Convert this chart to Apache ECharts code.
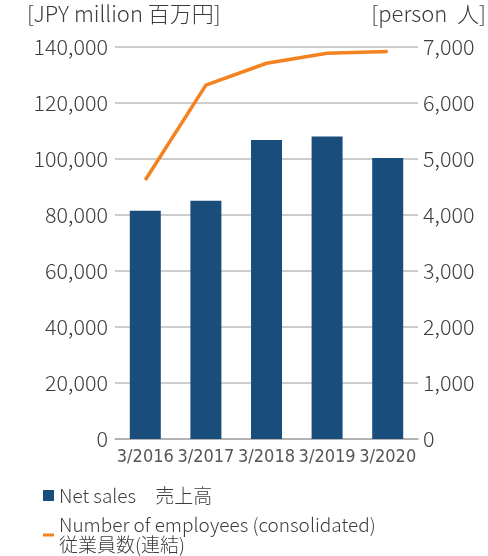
<!DOCTYPE html>
<html><head><meta charset="utf-8">
<script src="https://cdn.jsdelivr.net/npm/echarts@6/dist/echarts.min.js"></script>
<style>html,body{margin:0;padding:0;background:#fff}#c{width:488px;height:556px}</style>
</head><body><div id="c"></div>
<script>
const categories = ['3/2016','3/2017','3/2018','3/2019','3/2020'];
const netSales = [81500, 85100, 106800, 108000, 100400];
const employees = [4625, 6320, 6710, 6890, 6920];
const leftTicks = [0,20000,40000,60000,80000,100000,120000,140000];
const rightTicks = [0,1000,2000,3000,4000,5000,6000,7000];

const txt = '#3c3c3c';
const font = "'Noto Sans CJK JP', 'Noto Sans', sans-serif";
const salesName = 'Net sales　売上高';
const empName = 'Number of employees (consolidated)\n従業員数(連結)';
const chart = echarts.init(document.getElementById('c'));
chart.setOption({
  animation: false,
  textStyle: {fontFamily: font, color: txt, fontWeight: 300},
  grid: {left: 115, right: 70, top: 47, bottom: 117, containLabel: false},
  graphic: [
    {type:'text', left: 27, top: 3, style:{text:'[JPY million 百万円]', font:"300 22px "+font, fill: txt}},
    {type:'text', right: 2, top: 3, style:{text:'[person  人]', font:"300 22px "+font, fill: txt}}
  ],
  legend: [
    {left: 43, top: 486, padding: 0, itemWidth: 11, itemHeight: 11, itemGap: 4,
     textStyle: {fontSize: 19, color: txt, fontFamily: font, fontWeight: 300},
     data: [{name: salesName, icon: 'rect'}]},
    {left: 43, top: 515, padding: 0, itemWidth: 11, itemHeight: 3, itemGap: 4, align: 'left',
     textStyle: {fontSize: 19, color: txt, fontFamily: font, fontWeight: 300, lineHeight: 20},
     data: [{name: empName, icon: 'rect', itemStyle: {color: '#f58220'}}]}
  ],
  xAxis: {
    type: 'category', data: categories,
    axisLine: {lineStyle: {color: '#aaaaaa', width: 1.5}},
    axisTick: {show: false},
    axisLabel: {interval: 0, fontFamily: "'DejaVu Sans Condensed', 'Liberation Sans Narrow', sans-serif", fontSize: 18, fontWeight: 'normal', color: '#555555', margin: 9}
  },
  yAxis: [
    {type:'value', min: 0, max: 140000, interval: 20000,
     axisLine:{show:false}, axisTick:{show:false},
     splitLine:{lineStyle:{color:'#bdbdbd', width:1.5}},
     axisLabel:{fontSize: 21.5, fontWeight: 300, color: txt, margin: 7, formatter: v => v.toLocaleString('en-US')}},
    {type:'value', min: 0, max: 7000, interval: 1000,
     axisLine:{show:false}, axisTick:{show:false}, splitLine:{show:false},
     axisLabel:{fontSize: 21.5, fontWeight: 300, color: txt, margin: 5, formatter: v => v.toLocaleString('en-US')}}
  ],
  series: [
    {name: salesName, type: 'bar', data: netSales, barWidth: 31,
     itemStyle: {color: '#184d7c'}},
    {name: empName, type: 'line', yAxisIndex: 1,
     data: employees, symbol: 'none', lineStyle: {color: '#f58220', width: 3.5}, itemStyle:{color:'#f58220'}}
  ]
});
</script></body></html>
